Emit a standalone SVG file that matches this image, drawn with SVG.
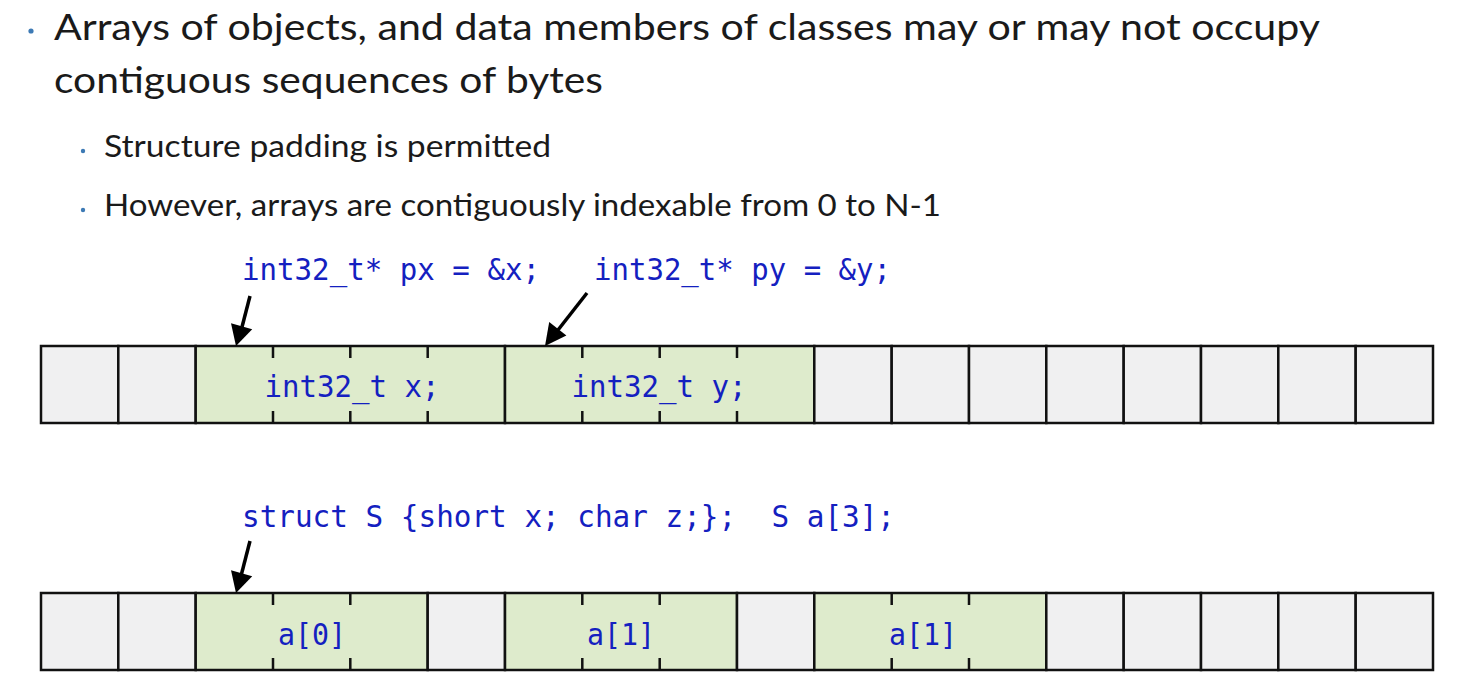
<svg xmlns="http://www.w3.org/2000/svg" width="1468" height="684" viewBox="0 0 1468 684">
<style>
.t{font-family:Lato,"Open Sans","Noto Sans",sans-serif;fill:#1a1a1a}
.c{font-family:"DejaVu Sans Mono","Liberation Mono",monospace;fill:#1420c0;font-size:30px}
.g{fill:#f0f0f1;stroke:#111;stroke-width:2.5}
.n{fill:#deebcc;stroke:#111;stroke-width:2.5}
.tk{stroke:#111;stroke-width:2.5}
.ar{stroke:#000;stroke-width:3.5;fill:none}
.hd{fill:#000}
</style>
<rect width="1468" height="684" fill="#fff"/>
<g id="text">
<circle cx="31" cy="31" r="2.6" fill="#3d7ab5"/>
<text class="t" x="54" y="40" font-size="37" textLength="1266" lengthAdjust="spacingAndGlyphs">Arrays of objects, and data members of classes may or may not occupy</text>
<text class="t" x="54" y="93" font-size="37" textLength="549" lengthAdjust="spacingAndGlyphs">contiguous sequences of bytes</text>
<circle cx="83" cy="151" r="2.2" fill="#3d7ab5"/>
<text class="t" x="104" y="157" font-size="31" textLength="447" lengthAdjust="spacingAndGlyphs">Structure padding is permitted</text>
<circle cx="83" cy="210" r="2.2" fill="#3d7ab5"/>
<text class="t" x="104" y="216" font-size="31" textLength="837" lengthAdjust="spacingAndGlyphs">However, arrays are contiguously indexable from 0 to N-1</text>
</g>
<g id="row1">
<rect class="g" x="41" y="346" width="77.3" height="77"/>
<rect class="g" x="118.3" y="346" width="77.4" height="77"/>
<rect class="n" x="195.7" y="346" width="309.3" height="77"/>
<rect class="n" x="505" y="346" width="309.3" height="77"/>
<rect class="g" x="814.3" y="346" width="77.4" height="77"/>
<rect class="g" x="891.7" y="346" width="77.3" height="77"/>
<rect class="g" x="969" y="346" width="77.3" height="77"/>
<rect class="g" x="1046.3" y="346" width="77.4" height="77"/>
<rect class="g" x="1123.7" y="346" width="77.3" height="77"/>
<rect class="g" x="1201" y="346" width="77.3" height="77"/>
<rect class="g" x="1278.3" y="346" width="77.4" height="77"/>
<rect class="g" x="1355.7" y="346" width="77.3" height="77"/>
<path class="tk" d="M273,346v12M350.3,346v12M427.7,346v12M273,423v-12M350.3,423v-12M427.7,423v-12M582.3,346v12M659.7,346v12M737,346v12M582.3,423v-12M659.7,423v-12M737,423v-12"/>
<text class="c" x="352" y="397" text-anchor="middle" textLength="175" lengthAdjust="spacingAndGlyphs">int32_t x;</text>
<text class="c" x="659" y="397" text-anchor="middle" textLength="175" lengthAdjust="spacingAndGlyphs">int32_t y;</text>
</g>
<g id="row2">
<rect class="g" x="41" y="593" width="77.3" height="77"/>
<rect class="g" x="118.3" y="593" width="77.4" height="77"/>
<rect class="n" x="195.7" y="593" width="232" height="77"/>
<rect class="g" x="427.7" y="593" width="77.3" height="77"/>
<rect class="n" x="505" y="593" width="232" height="77"/>
<rect class="g" x="737" y="593" width="77.3" height="77"/>
<rect class="n" x="814.3" y="593" width="232" height="77"/>
<rect class="g" x="1046.3" y="593" width="77.4" height="77"/>
<rect class="g" x="1123.7" y="593" width="77.3" height="77"/>
<rect class="g" x="1201" y="593" width="77.3" height="77"/>
<rect class="g" x="1278.3" y="593" width="77.4" height="77"/>
<rect class="g" x="1355.7" y="593" width="77.3" height="77"/>
<path class="tk" d="M273,593v12M350.3,593v12M273,670v-12M350.3,670v-12M582.3,593v12M659.7,593v12M582.3,670v-12M659.7,670v-12M891.7,593v12M969,593v12M891.7,670v-12M969,670v-12"/>
<text class="c" x="312" y="645" text-anchor="middle" textLength="68" lengthAdjust="spacingAndGlyphs">a[0]</text>
<text class="c" x="621" y="645" text-anchor="middle" textLength="68" lengthAdjust="spacingAndGlyphs">a[1]</text>
<text class="c" x="923" y="645" text-anchor="middle" textLength="68" lengthAdjust="spacingAndGlyphs">a[1]</text>
</g>
<g id="labels">
<text class="c" x="242" y="280" textLength="298" lengthAdjust="spacingAndGlyphs">int32_t* px = &amp;x;</text>
<text class="c" x="594" y="280" textLength="297" lengthAdjust="spacingAndGlyphs">int32_t* py = &amp;y;</text>
<text class="c" x="242" y="527" textLength="653" lengthAdjust="spacingAndGlyphs" xml:space="preserve">struct S {short x; char z;};&#160; S a[3];</text>
</g>
<g id="connectors">
<line class="ar" x1="250" y1="296" x2="242" y2="327"/>
<polygon class="hd" points="236,346 252.2,329.3 231.0,323.3"/>
<line class="ar" x1="587" y1="293" x2="558" y2="330"/>
<polygon class="hd" points="545,346 566.4,335.6 549.2,321.9"/>
<line class="ar" x1="250" y1="541" x2="241.5" y2="574"/>
<polygon class="hd" points="236,593 252.2,576.2 231.0,570.3"/>
</g>
</svg>
